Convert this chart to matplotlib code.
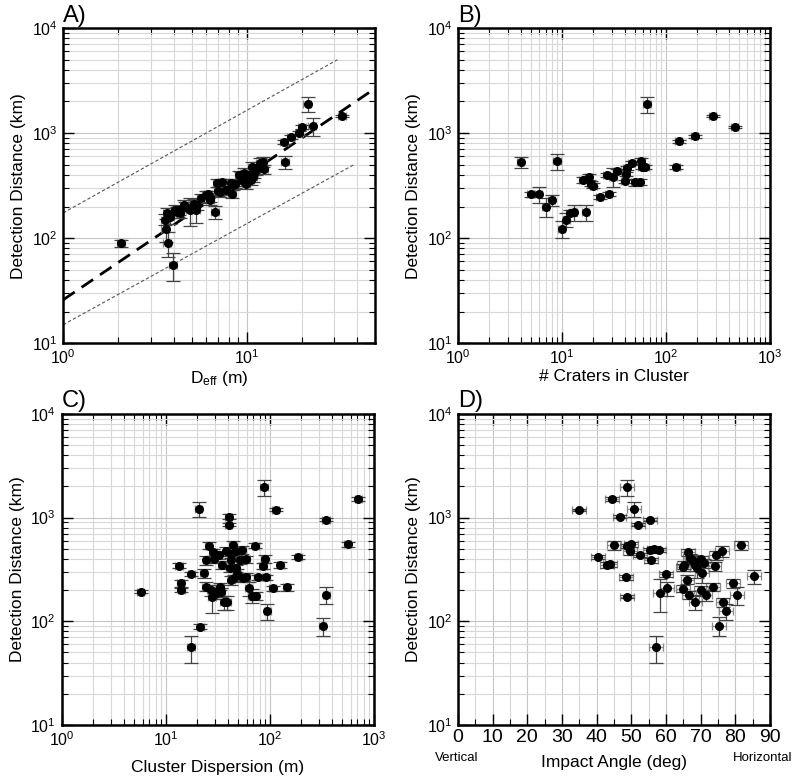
import numpy as np
import matplotlib
matplotlib.use('Agg')
import matplotlib.pyplot as plt
from matplotlib.ticker import LogLocator, MultipleLocator, NullFormatter
import matplotlib.transforms as mtransforms

plt.rcParams['font.family'] = ['Liberation Sans', 'DejaVu Sans']
plt.rcParams['mathtext.fontset'] = 'custom'
plt.rcParams['mathtext.rm'] = 'Liberation Sans'
plt.rcParams['mathtext.it'] = 'Liberation Sans:italic'
plt.rcParams['mathtext.bf'] = 'Liberation Sans:bold'

# ======================
# DATA
# ======================

# A) effective diameter vs detection distance
a_deff = [2.07, 3.58, 3.61, 3.66, 3.70, 3.80, 3.97, 4.06, 4.14, 4.28,
          4.35, 4.54, 4.60, 4.89, 5.00, 5.16, 5.27, 5.32, 5.60, 5.97,
          6.15, 6.28, 6.33, 6.68, 6.88, 7.00, 7.17, 7.32, 7.66, 8.23,
          8.33, 8.40, 8.61, 9.12, 9.31, 9.50, 9.71, 9.91, 10.25, 10.47,
          10.64, 10.87, 11.0, 11.24, 11.47, 11.81, 12.21, 12.47, 16.0, 16.2,
          17.4, 19.3, 19.9, 21.4, 22.8, 33.1]
a_dist = [89, 150, 123, 172, 90, 160, 56, 187, 178, 184,
          174, 209, 200, 187, 199, 210, 184, 206, 240, 260,
          262, 247, 230, 178, 336, 280, 276, 341, 287, 336,
          266, 320, 331, 398, 384, 350, 419, 331, 398, 357,
          478, 384, 420, 445, 478, 523, 534, 454, 828, 533,
          925, 1000, 1150, 1897, 1170, 1455]
a_yerr = [0.08, 0.12, 0.25, 0.12, 0.27, 0.15, 0.30, 0.10, 0.12, 0.10,
          0.10, 0.10, 0.10, 0.30, 0.10, 0.12, 0.25, 0.10, 0.10, 0.08,
          0.08, 0.10, 0.10, 0.14, 0.08, 0.10, 0.10, 0.08, 0.10, 0.08,
          0.10, 0.10, 0.10, 0.10, 0.10, 0.10, 0.10, 0.12, 0.10, 0.10,
          0.12, 0.10, 0.10, 0.10, 0.10, 0.10, 0.10, 0.10, 0.05, 0.14,
          0.04, 0.05, 0.05, 0.17, 0.20, 0.03]
a_xerr = 0.05

# fit line and envelope (end points)
fit_x = [1.0, 50.0]
fit_y = [25.9, 2670.0]
upper_x = [1.0, 31.1]
upper_y = [174.0, 4990.0]
lower_x = [1.0, 38.8]
lower_y = [15.0, 507.0]

# B) number of craters
b_n = [4, 5, 6, 7, 8, 9, 10, 11, 12, 13,
       16, 17, 18, 19, 20, 23, 27, 28, 31, 34,
       40, 41, 42, 47, 50, 56, 58, 59, 63, 66,
       126, 132, 188, 282, 460]
b_dist = [526, 261, 262, 199, 230, 537, 123, 150, 174, 176,
          360, 176, 384, 331, 317, 247, 398, 262, 384, 434,
          347, 407, 468, 522, 339, 342, 542, 478, 478, 1884,
          474, 834, 931, 1455, 1151]
b_yerr = [0.12, 0.05, 0.17, 0.20, 0.12, 0.17, 0.18, 0.15, 0.06, 0.18,
          0.07, 0.18, 0.06, 0.06, 0.05, 0.05, 0.05, 0.04, 0.20, 0.05,
          0.04, 0.05, 0.05, 0.03, 0.07, 0.07, 0.07, 0.05, 0.04, 0.17,
          0.04, 0.04, 0.04, 0.02, 0.02]
b_xerr = 0.08

# C) cluster dispersion
c_disp = [5.74, 13.5, 14.0, 14.2, 17.7, 17.6, 21.6, 20.9, 23.3, 24.4,
          24.7, 26.0, 28.6, 29.1, 27.4, 28.0, 29.7, 30.4, 32.5, 33.7,
          34.4, 34.9, 36.5, 39.3, 38.5, 40.5, 40.5, 41.4, 42.3, 43.0,
          44.0, 43.0, 45.2, 48.0, 48.7, 48.0, 51.6, 54.8, 55.6, 59.8,
          59.8, 63.0, 67.9, 73.6, 73.1, 77.5, 86.5, 89.8, 88.5, 93.2,
          95.3, 107, 115, 127, 147, 189, 326, 349, 351, 567,
          713]
c_dist = [193, 344, 233, 201, 287, 56, 89, 1213, 290, 216,
          387, 537, 464, 397, 198, 173, 184, 192, 436, 216,
          192, 349, 152, 152, 472, 855, 1022, 325, 386, 447,
          545, 251, 260, 472, 287, 325, 387, 488, 264, 397,
          265, 208, 177, 176, 537, 265, 342, 399, 1963, 265,
          125, 208, 1195, 349, 213, 414, 90, 957, 180, 553,
          1503]
c_yerr = [0.04, 0.06, 0.08, 0.05, 0.05, 0.30, 0.06, 0.17, 0.10, 0.10,
          0.10, 0.08, 0.08, 0.08, 0.12, 0.30, 0.10, 0.10, 0.08, 0.08,
          0.10, 0.08, 0.15, 0.15, 0.10, 0.04, 0.05, 0.08, 0.10, 0.08,
          0.10, 0.10, 0.08, 0.08, 0.10, 0.08, 0.08, 0.08, 0.08, 0.08,
          0.10, 0.15, 0.15, 0.08, 0.05, 0.06, 0.06, 0.08, 0.17, 0.06,
          0.18, 0.06, 0.04, 0.06, 0.08, 0.04, 0.20, 0.04, 0.18, 0.06,
          0.04]
c_xerr = 0.08

# D) impact angle
d_angle = [35.0, 40.5, 43.1, 43.9, 44.5, 45.0, 46.6, 48.4, 48.7, 48.8,
           48.8, 49.6, 49.8, 50.8, 51.9, 52.5, 55.3, 55.4, 55.7, 56.4,
           57.1, 58.1, 58.2, 60.1, 60.3, 64.8, 64.9, 65.1, 66.2, 66.4,
           66.6, 66.8, 67.4, 68.0, 68.3, 68.5, 69.0, 70.1, 70.4, 70.2,
           70.9, 71.4, 73.6, 74.0, 74.4, 75.2, 76.1, 76.3, 77.3, 79.3,
           80.5, 81.7, 85.4]
d_dist = [1186, 418, 349, 353, 1514, 541, 1022, 266, 1963, 535,
          173, 477, 553, 1213, 855, 436, 957, 484, 386, 495,
          56, 484, 189, 284, 208, 206, 330, 349, 252, 464,
          180, 405, 392, 385, 349, 152, 325, 397, 290, 199,
          365, 178, 215, 338, 436, 91, 474, 153, 125, 233,
          180, 545, 272]
d_yerr = [0.03, 0.04, 0.06, 0.05, 0.04, 0.10, 0.03, 0.06, 0.17, 0.05,
          0.04, 0.08, 0.06, 0.17, 0.04, 0.04, 0.04, 0.05, 0.05, 0.04,
          0.30, 0.04, 0.35, 0.06, 0.15, 0.08, 0.08, 0.08, 0.10, 0.08,
          0.08, 0.10, 0.10, 0.10, 0.12, 0.15, 0.20, 0.08, 0.20, 0.10,
          0.10, 0.12, 0.08, 0.10, 0.10, 0.20, 0.12, 0.10, 0.18, 0.10,
          0.20, 0.10, 0.15]
d_xerr = 2.0


def draw_points(ax, x, y, yfrac, xerr, xlog=True):
    x = np.array(x, dtype=float)
    y = np.array(y, dtype=float)
    dy = y * np.array(yfrac)
    if xlog:
        dx = x * xerr
    else:
        dx = np.full(len(x), xerr)
    ax.errorbar(x, y, xerr=dx, fmt='none', ecolor='#8a8a8a',
                elinewidth=0.9, capsize=3, capthick=0.9, zorder=3)
    ax.errorbar(x, y, yerr=dy, fmt='none', ecolor='#444444',
                elinewidth=0.9, capsize=5, capthick=0.9, zorder=3)
    ax.plot(x, y, 'o', color='black', markersize=5.5, zorder=4)


def style_axes(ax, xlog=True):
    ax.set_yscale('log')
    ax.set_ylim(10, 1e4)
    ax.yaxis.set_major_locator(LogLocator(base=10))
    ax.yaxis.set_minor_locator(LogLocator(base=10, subs=np.arange(2, 10)))
    ax.yaxis.set_minor_formatter(NullFormatter())
    if xlog:
        ax.set_xscale('log')
        ax.xaxis.set_major_locator(LogLocator(base=10))
        ax.xaxis.set_minor_locator(LogLocator(base=10, subs=np.arange(2, 10)))
        ax.xaxis.set_minor_formatter(NullFormatter())
    ax.grid(which='major', color='#c4c4c4', linewidth=0.8, zorder=0)
    ax.grid(which='minor', color='#d8d8d8', linewidth=0.8, zorder=0)
    ax.set_axisbelow(True)
    ax.tick_params(which='both', direction='in', top=True, right=True,
                   color='black')
    ax.tick_params(which='major', length=8, width=1.0, pad=4, labelsize=11.5)
    ax.tick_params(which='minor', length=4, width=0.8)
    for s in ax.spines.values():
        s.set_linewidth(1.8)
    ax.set_ylabel('Detection Distance (km)', fontsize=12.5, labelpad=4)


fig = plt.figure(figsize=(8, 7.8), dpi=100)

w = 0.39
h_top = 0.404
h_bot = 0.399
ax_a = fig.add_axes([0.079, 0.560, w, h_top])
ax_b = fig.add_axes([0.5725, 0.560, w, h_top])
ax_c = fig.add_axes([0.077, 0.0705, w, h_bot])
ax_d = fig.add_axes([0.5725, 0.0705, w, h_bot])

# ======================
# A
# ======================
style_axes(ax_a)
ax_a.set_xlim(1, 50)
ax_a.plot(upper_x, upper_y, color='#555555', linewidth=0.8,
          dashes=(3, 2), zorder=2)
ax_a.plot(lower_x, lower_y, color='#555555', linewidth=0.8,
          dashes=(3, 2), zorder=2)
ax_a.plot(fit_x, fit_y, color='black', linewidth=2.0,
          dashes=(5, 3), zorder=2)
draw_points(ax_a, a_deff, a_dist, a_yerr, a_xerr)
ax_a.set_xlabel(r'D$_{\rm eff}$ (m)', fontsize=12.5, labelpad=1)

# ======================
# B
# ======================
style_axes(ax_b)
ax_b.set_xlim(1, 1000)
draw_points(ax_b, b_n, b_dist, b_yerr, b_xerr)
ax_b.set_xlabel('# Craters in Cluster', fontsize=12.5, labelpad=1)

# ======================
# C
# ======================
style_axes(ax_c)
ax_c.set_xlim(1, 1000)
draw_points(ax_c, c_disp, c_dist, c_yerr, c_xerr)
ax_c.set_xlabel('Cluster Dispersion (m)', fontsize=12.5, labelpad=8)

# ======================
# D
# ======================
style_axes(ax_d, xlog=False)
ax_d.set_xlim(0, 90)
ax_d.xaxis.set_major_locator(MultipleLocator(10))
ax_d.xaxis.set_minor_locator(MultipleLocator(5))
ax_d.tick_params(axis='x', which='major', labelsize=14, pad=3)
draw_points(ax_d, d_angle, d_dist, d_yerr, d_xerr, xlog=False)
ax_d.set_xlabel('Impact Angle (deg)', fontsize=12.5, labelpad=6)
trans = mtransforms.blended_transform_factory(ax_d.transData, ax_d.transAxes)
ax_d.text(-0.5, -0.105, 'Vertical', transform=trans, ha='center',
          va='center', fontsize=9.5)
ax_d.text(88, -0.105, 'Horizontal', transform=trans, ha='center',
          va='center', fontsize=9.5)

# panel letters
for ax, lab in [(ax_a, 'A)'), (ax_b, 'B)'), (ax_c, 'C)'), (ax_d, 'D)')]:
    ax.text(0.0, 1.005, lab, transform=ax.transAxes, ha='left',
            va='bottom', fontsize=17)

plt.savefig('out.png', dpi=100)
plt.close()
